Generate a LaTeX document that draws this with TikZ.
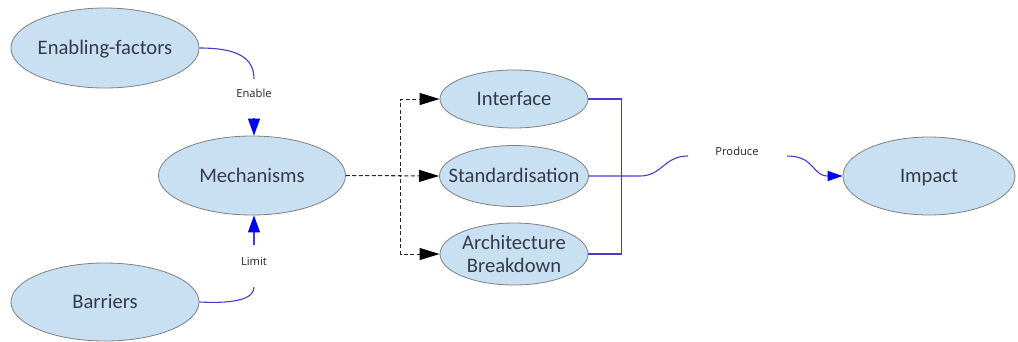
\documentclass[tikz,border=0pt]{standalone}
\usepackage{fontspec}
\setmainfont{Carlito}
\newfontfamily\lblfont{Open Sans}
\usetikzlibrary{shapes.geometric,arrows.meta}
\definecolor{ellfill}{RGB}{200,224,241}
\definecolor{ellline}{RGB}{128,128,128}
\definecolor{ink}{RGB}{52,58,74}
\definecolor{wire}{RGB}{72,60,205}
\definecolor{tipblue}{RGB}{0,0,245}
\tikzset{
  ell/.style 2 args={ellipse, draw=ellline, line width=0.8pt, fill=ellfill,
    inner sep=0pt, minimum width=#1, minimum height=#2},
  txt/.style={text=ink, font=\fontsize{20.6}{23}\selectfont, align=center,
    text height=13.3pt, text depth=0pt, inner sep=0pt},
  lbl/.style={text=black!85, font=\lblfont\fontsize{11.2}{13}\selectfont, inner sep=0pt},
  wireline/.style={draw=wire, line width=1.1pt},
  bluetip/.style={wireline, -{Triangle[length=17pt, width=12pt, color=tipblue]}},
  smalltip/.style={wireline, -{Triangle[length=15pt, width=10pt, color=tipblue]}},
  dashline/.style={draw=black!85, line width=1pt, dash pattern=on 4pt off 2.5pt,
    -{Triangle[length=20pt, width=12pt, color=black]}},
}
\begin{document}
\begin{tikzpicture}[x=1pt, y=-1pt]
\useasboundingbox (0,0) rectangle (1018,341);
\fill[white] (0,0) rectangle (1018,341);

% concept ellipses
\node[ell={188}{80}, label={[txt]center:Enabling-factors}] (ef) at (105,48) {};
\node[ell={187}{79}, label={[txt]center:Mechanisms}] (mech) at (252,175.5) {};
\node[ell={188}{78}, label={[txt]center:Barriers}] (bar) at (105,302) {};
\node[ell={148}{58}, label={[txt]center:Interface}] (iface) at (514,99) {};
\node[ell={149}{61}, label={[txt]center:Standardisation}] (std) at (514,176) {};
\node[ell={148}{62}, label={[txt, text height=36.3pt]center:Architecture\\Breakdown}] (arch) at (514,254) {};
\node[ell={172}{78}, label={[txt]center:Impact}] (imp) at (929,176) {};

% relation labels
\node[lbl] (enable) at (254,93) {Enable};
\node[lbl] (limit) at (254,261) {Limit};
\node[lbl] (prod) at (737,151) {Produce};

\coordinate (e1) at (254,79);
\coordinate (e2) at (254,118);
\coordinate (l1) at (254,287);
\coordinate (l2) at (254,245);
\coordinate (p1) at (688,156);
\coordinate (p2) at (787,156);

% Enable: enabling factors -> mechanisms
\draw[wireline] (ef.east) .. controls (238,48) and (254,58) .. (e1);
\draw[bluetip] (e2) -- (e2 |- mech.north);

% Limit: barriers -> mechanisms
\draw[wireline] (bar.east) .. controls (238,304) and (254,298) .. (l1);
\draw[bluetip] (l2) -- (l2 |- mech.south);

% mechanisms fan out (dashed)
\draw[dashline] (mech.east) -- (std.west);
\draw[dashline] (mech.east) -- ++(55,0) |- (iface.west);
\draw[dashline] (mech.east) -- ++(55,0) |- (arch.west);

% outcomes collect into Produce -> Impact
\draw[wireline] (iface.east) -- ++(33,0) |- (arch.east);
\draw[wireline] (std.east) -- (640,176) .. controls (662,176) and (664,156) .. (p1);
\draw[smalltip] (p2) .. controls (815,156) and (812,176) .. (imp.west);
\end{tikzpicture}
\end{document}
